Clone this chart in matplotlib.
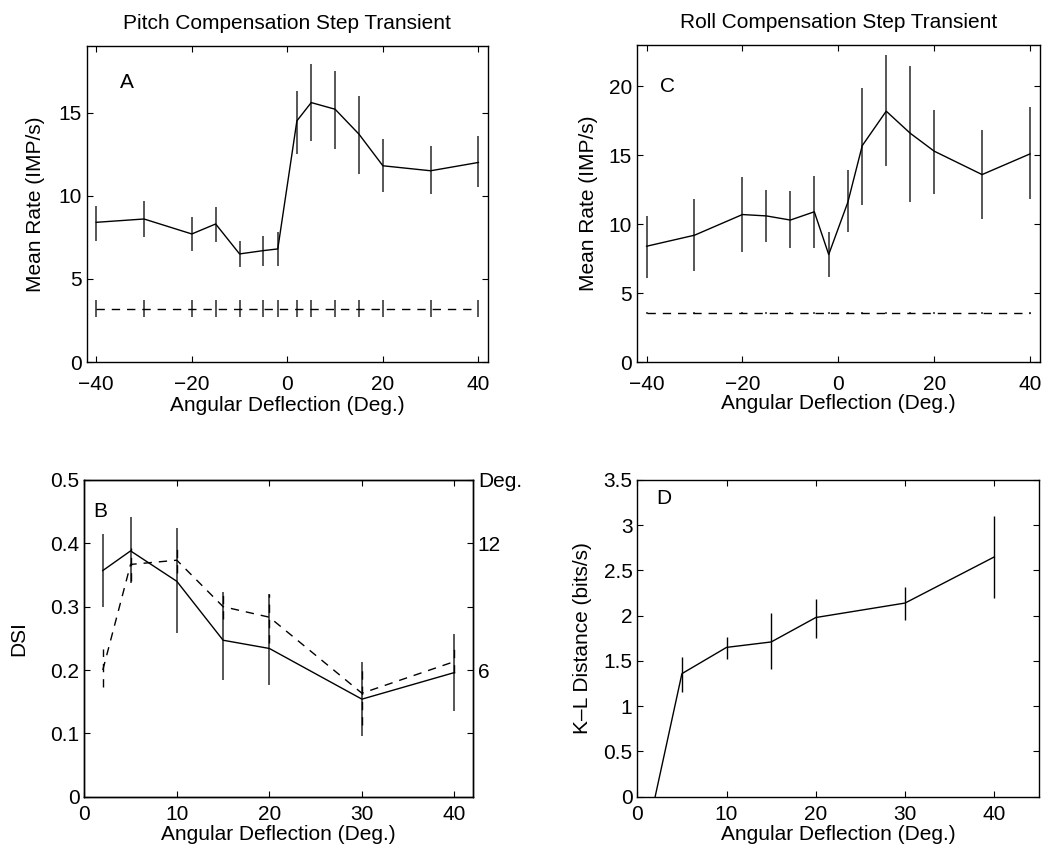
import numpy as np
import matplotlib
matplotlib.use('Agg')
import matplotlib.pyplot as plt
from matplotlib.ticker import FormatStrFormatter

plt.rcParams['font.family'] = ['Liberation Sans', 'DejaVu Sans']
plt.rcParams['font.size'] = 15
plt.rcParams['axes.linewidth'] = 1.0
plt.rcParams['xtick.direction'] = 'in'
plt.rcParams['ytick.direction'] = 'in'
plt.rcParams['xtick.major.size'] = 4
plt.rcParams['ytick.major.size'] = 4
plt.rcParams['xtick.top'] = True
plt.rcParams['ytick.right'] = True

# Panel A: pitch compensation
pitch_deg = [-40, -30, -20, -15, -10, -5, -2, 2, 5, 10, 15, 20, 30, 40]
pitch_rate = [8.4, 8.6, 7.7, 8.3, 6.5, 6.7, 6.8, 14.5, 15.6, 15.2, 13.7, 11.8, 11.5, 12.0]
pitch_hi = [9.4, 9.7, 8.7, 9.3, 7.3, 7.6, 7.8, 16.3, 17.9, 17.5, 16.0, 13.4, 13.0, 13.6]
pitch_lo = [7.3, 7.5, 6.7, 7.2, 5.7, 5.8, 5.8, 12.5, 13.3, 12.8, 11.3, 10.2, 10.1, 10.5]
pitch_base = [3.2, 3.2, 3.2, 3.2, 3.2, 3.2, 3.2, 3.2, 3.2, 3.2, 3.2, 3.2, 3.2, 3.2]
pitch_base_err = [0.5, 0.5, 0.5, 0.5, 0.5, 0.5, 0.5, 0.5, 0.5, 0.5, 0.5, 0.5, 0.5, 0.5]

# Panel C: roll compensation
roll_deg = [-40, -30, -20, -15, -10, -5, -2, 2, 5, 10, 15, 20, 30, 40]
roll_rate = [8.4, 9.2, 10.7, 10.6, 10.3, 10.9, 7.8, 11.6, 15.7, 18.2, 16.6, 15.3, 13.6, 15.1]
roll_hi = [10.6, 11.8, 13.4, 12.5, 12.4, 13.5, 9.4, 13.9, 19.9, 22.3, 21.5, 18.3, 16.8, 18.5]
roll_lo = [6.1, 6.6, 8.0, 8.7, 8.3, 8.3, 6.2, 9.4, 11.4, 14.2, 11.6, 12.2, 10.4, 11.8]
roll_base = [3.55, 3.55, 3.55, 3.55, 3.55, 3.55, 3.55, 3.55, 3.55, 3.55, 3.55, 3.55, 3.55, 3.55]
roll_base_err = [0.08, 0.08, 0.08, 0.08, 0.08, 0.08, 0.08, 0.08, 0.08, 0.08, 0.08, 0.08, 0.08, 0.08]

# Panel B: DSI (solid, left axis) and preferred deflection in Deg. (dashed, right axis)
dsi_deg = [2, 5, 10, 15, 20, 30, 40]
dsi = [0.357, 0.388, 0.340, 0.247, 0.234, 0.154, 0.196]
dsi_hi = [0.415, 0.441, 0.424, 0.323, 0.320, 0.212, 0.257]
dsi_lo = [0.299, 0.338, 0.258, 0.185, 0.176, 0.096, 0.136]
pref = [6.0, 11.0, 11.2, 9.0, 8.5, 4.9, 6.4]
pref_hi = [7.0, 11.8, 11.8, 9.7, 9.6, 6.3, 7.0]
pref_lo = [5.2, 10.2, 10.6, 8.4, 7.3, 3.4, 5.85]

# Panel D: K-L distance
kl_deg = [2, 5, 10, 15, 20, 30, 40]
kl = [0.0, 1.36, 1.65, 1.71, 1.98, 2.14, 2.65]
kl_hi = [0.0, 1.54, 1.77, 2.03, 2.19, 2.32, 3.10]
kl_lo = [0.0, 1.16, 1.52, 1.41, 1.75, 1.95, 2.20]


def bounds(mid, lo, hi):
    mid = np.array(mid)
    return [mid - np.array(lo), np.array(hi) - mid]


ecol = '#3a3a3a'
fig = plt.figure(figsize=(10.42, 8.51), dpi=100)

axA = fig.add_axes([0.0832, 0.5746, 0.3851, 0.3713])
axC = fig.add_axes([0.6113, 0.5746, 0.3864, 0.3725])
axB = fig.add_axes([0.0809, 0.0638, 0.3730, 0.3722])
axD = fig.add_axes([0.6116, 0.0638, 0.3855, 0.3722])

# A
axA.errorbar(pitch_deg, pitch_rate, yerr=bounds(pitch_rate, pitch_lo, pitch_hi),
             color='k', ecolor=ecol, lw=1, elinewidth=1.2, capsize=0)
axA.errorbar(pitch_deg, pitch_base, yerr=pitch_base_err, color='k', ecolor=ecol,
             lw=1, ls=(0, (6, 5)), elinewidth=1.2, capsize=0)
axA.set_xlim(-42, 42)
axA.set_ylim(0, 19)
axA.set_xticks([-40, -20, 0, 20, 40])
axA.set_yticks([0, 5, 10, 15])
axA.tick_params(axis='x', pad=9)
axA.set_xlabel('Angular Deflection (Deg.)', labelpad=2)
axA.set_ylabel('Mean Rate (IMP/s)', labelpad=10)
axA.set_title('Pitch Compensation Step Transient', fontsize=15, pad=12)
axA.text(0.10, 0.885, 'A', transform=axA.transAxes, ha='center', va='center')

# C
axC.errorbar(roll_deg, roll_rate, yerr=bounds(roll_rate, roll_lo, roll_hi),
             color='k', ecolor=ecol, lw=1, elinewidth=1.2, capsize=0)
axC.errorbar(roll_deg, roll_base, yerr=roll_base_err, color='k', ecolor=ecol,
             lw=1, ls=(0, (6, 5)), elinewidth=1.2, capsize=0)
axC.set_xlim(-42, 42)
axC.set_ylim(0, 23)
axC.set_xticks([-40, -20, 0, 20, 40])
axC.set_yticks([0, 5, 10, 15, 20])
axC.tick_params(axis='x', pad=9)
axC.set_xlabel('Angular Deflection (Deg.)', labelpad=0)
axC.set_ylabel('Mean Rate (IMP/s)', labelpad=8)
axC.set_title('Roll Compensation Step Transient', fontsize=15, pad=12)
axC.text(0.077, 0.868, 'C', transform=axC.transAxes, ha='center', va='center')

# B
axB.errorbar(dsi_deg, dsi, yerr=bounds(dsi, dsi_lo, dsi_hi),
             color='k', ecolor=ecol, lw=1, elinewidth=1.2, capsize=0)
axB.set_xlim(0, 42)
axB.set_ylim(0, 0.5)
axB.set_xticks([0, 10, 20, 30, 40])
axB.set_yticks([0, 0.1, 0.2, 0.3, 0.4, 0.5])
axB.yaxis.set_major_formatter(FormatStrFormatter('%g'))
axB.tick_params(right=False)
axB.tick_params(axis='x', pad=6)
axB.set_xlabel('Angular Deflection (Deg.)', labelpad=1)
axB.set_ylabel('DSI', labelpad=16)
axB.text(0.04, 0.90, 'B', transform=axB.transAxes, ha='center', va='center')

axB2 = axB.twinx()
eb = axB2.errorbar(dsi_deg, pref, yerr=bounds(pref, pref_lo, pref_hi),
                   color='k', ecolor='k', lw=1, ls=(0, (6, 5)), elinewidth=1, capsize=0)
eb[2][0].set_linestyle((0, (6, 5)))
axB2.set_ylim(0, 15)
axB2.set_yticks([3, 6, 9, 12, 15])
axB2.set_yticklabels(['', '6', '', '12', 'Deg.'])
axB2.tick_params(axis='y', direction='in', length=4, right=True, left=False)

# D
axD.errorbar(kl_deg, kl, yerr=bounds(kl, kl_lo, kl_hi),
             color='k', ecolor='k', lw=1, elinewidth=1, capsize=0)
axD.set_xlim(0, 45)
axD.set_ylim(0, 3.5)
axD.set_xticks([0, 10, 20, 30, 40])
axD.set_yticks([0, 0.5, 1, 1.5, 2, 2.5, 3, 3.5])
axD.yaxis.set_major_formatter(FormatStrFormatter('%g'))
axD.tick_params(axis='x', pad=6)
axD.set_xlabel('Angular Deflection (Deg.)', labelpad=1)
axD.set_ylabel('K\u2013L Distance (bits/s)', labelpad=8)
axD.text(0.065, 0.94, 'D', transform=axD.transAxes, ha='center', va='center')

fig.savefig('out.png', dpi=100)
